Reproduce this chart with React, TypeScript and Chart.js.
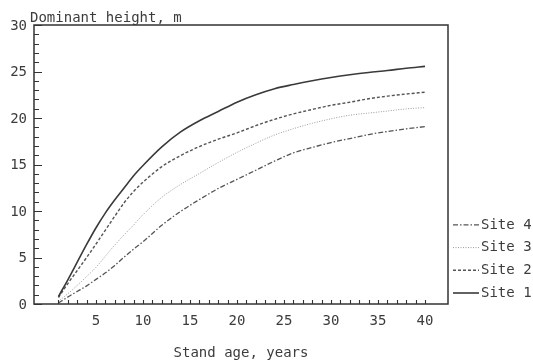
import { useEffect, useRef } from 'react';
import { Chart, registerables } from 'chart.js';

Chart.register(...registerables);

// ---- data ----
const ages = [1, 2, 3, 4, 5, 6, 7, 8, 9, 10, 12, 14, 16, 18, 20, 22, 24, 26, 28, 30, 32, 34, 36, 38, 40];
const site1 = [0.8, 2.6, 4.5, 6.4, 8.2, 9.8, 11.2, 12.5, 13.8, 14.9, 16.9, 18.5, 19.7, 20.7, 21.7, 22.5, 23.15, 23.6, 24.0, 24.35, 24.65, 24.9, 25.1, 25.35, 25.55];
const site2 = [0.7, 2.2, 3.6, 5.0, 6.45, 7.95, 9.45, 10.9, 12.1, 13.1, 14.77, 15.96, 16.93, 17.72, 18.4, 19.18, 19.86, 20.44, 20.92, 21.36, 21.7, 22.07, 22.35, 22.58, 22.77];
const site3 = [0.3, 1.1, 2.0, 2.95, 3.95, 5.15, 6.35, 7.45, 8.5, 9.6, 11.47, 12.86, 14.03, 15.21, 16.3, 17.28, 18.17, 18.85, 19.43, 19.91, 20.3, 20.53, 20.75, 20.98, 21.12];
const site4 = [0.1, 0.75, 1.35, 1.95, 2.65, 3.35, 4.15, 5.05, 5.9, 6.69, 8.47, 9.96, 11.23, 12.42, 13.4, 14.38, 15.37, 16.25, 16.83, 17.36, 17.79, 18.22, 18.55, 18.83, 19.07];
const seriesNames = ['Site 1', 'Site 2', 'Site 3', 'Site 4'];

const xTickLabels = [5, 10, 15, 20, 25, 30, 35, 40];
const yTickLabels = [0, 5, 10, 15, 20, 25, 30];
const xMinorFirst = 1;
const xMinorLast = 40;
const xTitle = 'Stand age, years';
const yTitle = 'Dominant height, m';

const FONT = '14px "DejaVu Sans Mono", monospace';
const TEXT = '#3c3c3c';

const decorPlugin = {
  id: 'decor',
  afterDatasetsDraw(chart: any) {
    const { ctx, chartArea: a, scales } = chart;
    const x = scales.x;
    const y = scales.y;
    ctx.save();
    ctx.strokeStyle = '#333';
    ctx.lineWidth = 1.5;
    ctx.setLineDash([]);
    ctx.strokeRect(a.left, a.top, a.right - a.left, a.bottom - a.top);

    // ticks (inward)
    ctx.lineWidth = 1.1;
    ctx.beginPath();
    for (let v = yTickLabels[0]; v <= yTickLabels[yTickLabels.length - 1]; v++) {
      const py = Math.round(y.getPixelForValue(v)) + 0.5;
      const len = v % 5 === 0 ? 8 : 5;
      ctx.moveTo(a.left, py);
      ctx.lineTo(a.left + len, py);
    }
    for (let v = xMinorFirst; v <= xMinorLast; v++) {
      const px = Math.round(x.getPixelForValue(v)) + 0.5;
      ctx.moveTo(px, a.bottom);
      ctx.lineTo(px, a.bottom - 4);
    }
    ctx.stroke();

    // tick labels
    ctx.fillStyle = TEXT;
    ctx.font = FONT;
    ctx.textAlign = 'right';
    ctx.textBaseline = 'middle';
    yTickLabels.forEach((v) => {
      ctx.fillText(String(v), a.left - 7, y.getPixelForValue(v) + 1);
    });
    ctx.textAlign = 'center';
    xTickLabels.forEach((v) => {
      ctx.fillText(String(v), x.getPixelForValue(v), a.bottom + 17);
    });

    // titles
    ctx.textAlign = 'center';
    ctx.fillText(xTitle, (a.left + a.right) / 2, a.bottom + 49);
    ctx.textAlign = 'left';
    ctx.fillText(yTitle, a.left - 4, a.top - 7);

    // legend (bottom-up: Site 1 at bottom)
    const ds = chart.data.datasets;
    ds.forEach((d: any, i: number) => {
      const ly = a.bottom - 11 - i * 22.7;
      ctx.strokeStyle = d.borderColor;
      ctx.lineWidth = d.borderWidth;
      ctx.setLineDash(d.borderDash || []);
      ctx.beginPath();
      ctx.moveTo(a.right + 5, ly);
      ctx.lineTo(a.right + 31, ly);
      ctx.stroke();
      ctx.setLineDash([]);
      ctx.fillStyle = TEXT;
      ctx.textAlign = 'left';
      ctx.textBaseline = 'middle';
      ctx.fillText(d.label, a.right + 33, ly);
    });
    ctx.restore();
  },
};

export default function App() {
  const ref = useRef<HTMLCanvasElement | null>(null);
  useEffect(() => {
    if (!ref.current) return;
    const mk = (vals: number[]) => ages.map((a, i) => ({ x: a, y: vals[i] }));
    const chart = new Chart(ref.current, {
      type: 'line',
      data: {
        datasets: [
          { label: seriesNames[0], data: mk(site1), borderColor: '#3a3a3a', borderWidth: 1.6, borderDash: [] },
          { label: seriesNames[1], data: mk(site2), borderColor: '#555555', borderWidth: 1.4, borderDash: [3, 2] },
          { label: seriesNames[2], data: mk(site3), borderColor: '#9a9a9a', borderWidth: 1, borderDash: [1, 1.5] },
          { label: seriesNames[3], data: mk(site4), borderColor: '#555555', borderWidth: 1.3, borderDash: [5, 2, 1.5, 2] },
        ] as any,
      },
      options: {
        animation: false,
        responsive: false,
        devicePixelRatio: 1,
        layout: { padding: { left: 34, top: 25, right: 85, bottom: 56 } },
        elements: { point: { radius: 0 }, line: { cubicInterpolationMode: 'monotone', fill: false } },
        plugins: { legend: { display: false }, tooltip: { enabled: false } },
        scales: {
          x: { type: 'linear', min: -1.6, max: 42.45, display: false },
          y: { type: 'linear', min: 0, max: 30, display: false },
        },
      },
      plugins: [decorPlugin],
    });
    return () => chart.destroy();
  }, []);
  return (
    <div style={{ position: 'absolute', left: 0, top: 0, width: 533, height: 360, background: '#fff' }}>
      <canvas ref={ref} width={533} height={360} style={{ width: 533, height: 360 }} />
    </div>
  );
}
